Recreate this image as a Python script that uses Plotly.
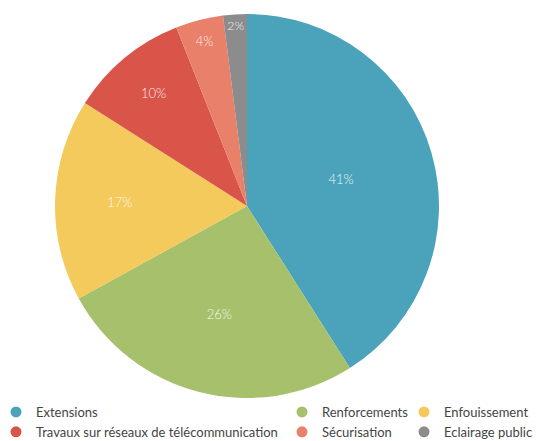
import plotly.graph_objects as go

labels = ["Extensions", "Renforcements", "Enfouissement",
          "Travaux sur réseaux de télécommunication", "Sécurisation", "Eclairage public"]
values = [41, 26, 17, 10, 4, 2]
colors = ["#4ba3bb", "#a7c06b", "#f3ca5b", "#d9554a", "#e8806a", "#8c8c8c"]
legend_groups = ["legend", "legend2", "legend3", "legend", "legend2", "legend3"]

W, H = 544, 441
cx, cy, R = 247, 206, 192

fig = go.Figure()
fig.add_trace(go.Pie(
    labels=labels, values=values, sort=False, direction="clockwise", rotation=0,
    marker=dict(colors=colors, line=dict(width=0)),
    texttemplate="%{percent:.0%}", textposition="inside", insidetextorientation="horizontal",
    textfont=dict(family="Lato", size=13, color="rgba(255,255,255,0.92)", weight=300),
    showlegend=False, hoverinfo="label+percent",
    domain=dict(x=[(cx - R) / W, (cx + R) / W], y=[1 - (cy + R) / H, 1 - (cy - R) / H]),
))

for lab, col, lg in zip(labels, colors, legend_groups):
    fig.add_trace(go.Scatter(
        x=[None], y=[None], mode="markers", name=lab,
        marker=dict(color=col, size=11, symbol="circle"),
        legend=lg, showlegend=True,
    ))

leg_common = dict(orientation="v", yanchor="top", xanchor="left", y=1 - 397 / H,
                  font=dict(family="Lato", size=13, color="#444444"),
                  bgcolor="rgba(0,0,0,0)", itemwidth=30, tracegroupgap=0)

fig.update_layout(
    width=W, height=H, margin=dict(l=0, r=0, t=0, b=0, autoexpand=False),
    paper_bgcolor="white", plot_bgcolor="white",
    xaxis=dict(visible=False), yaxis=dict(visible=False),
    legend=dict(x=(36 - 40) / W, **leg_common),
    legend2=dict(x=(322 - 40) / W, **leg_common),
    legend3=dict(x=(444 - 40) / W, **leg_common),
)

fig.write_html("out.html", config={"displayModeBar": False},
               post_script="document.body.style.margin='0px';")
